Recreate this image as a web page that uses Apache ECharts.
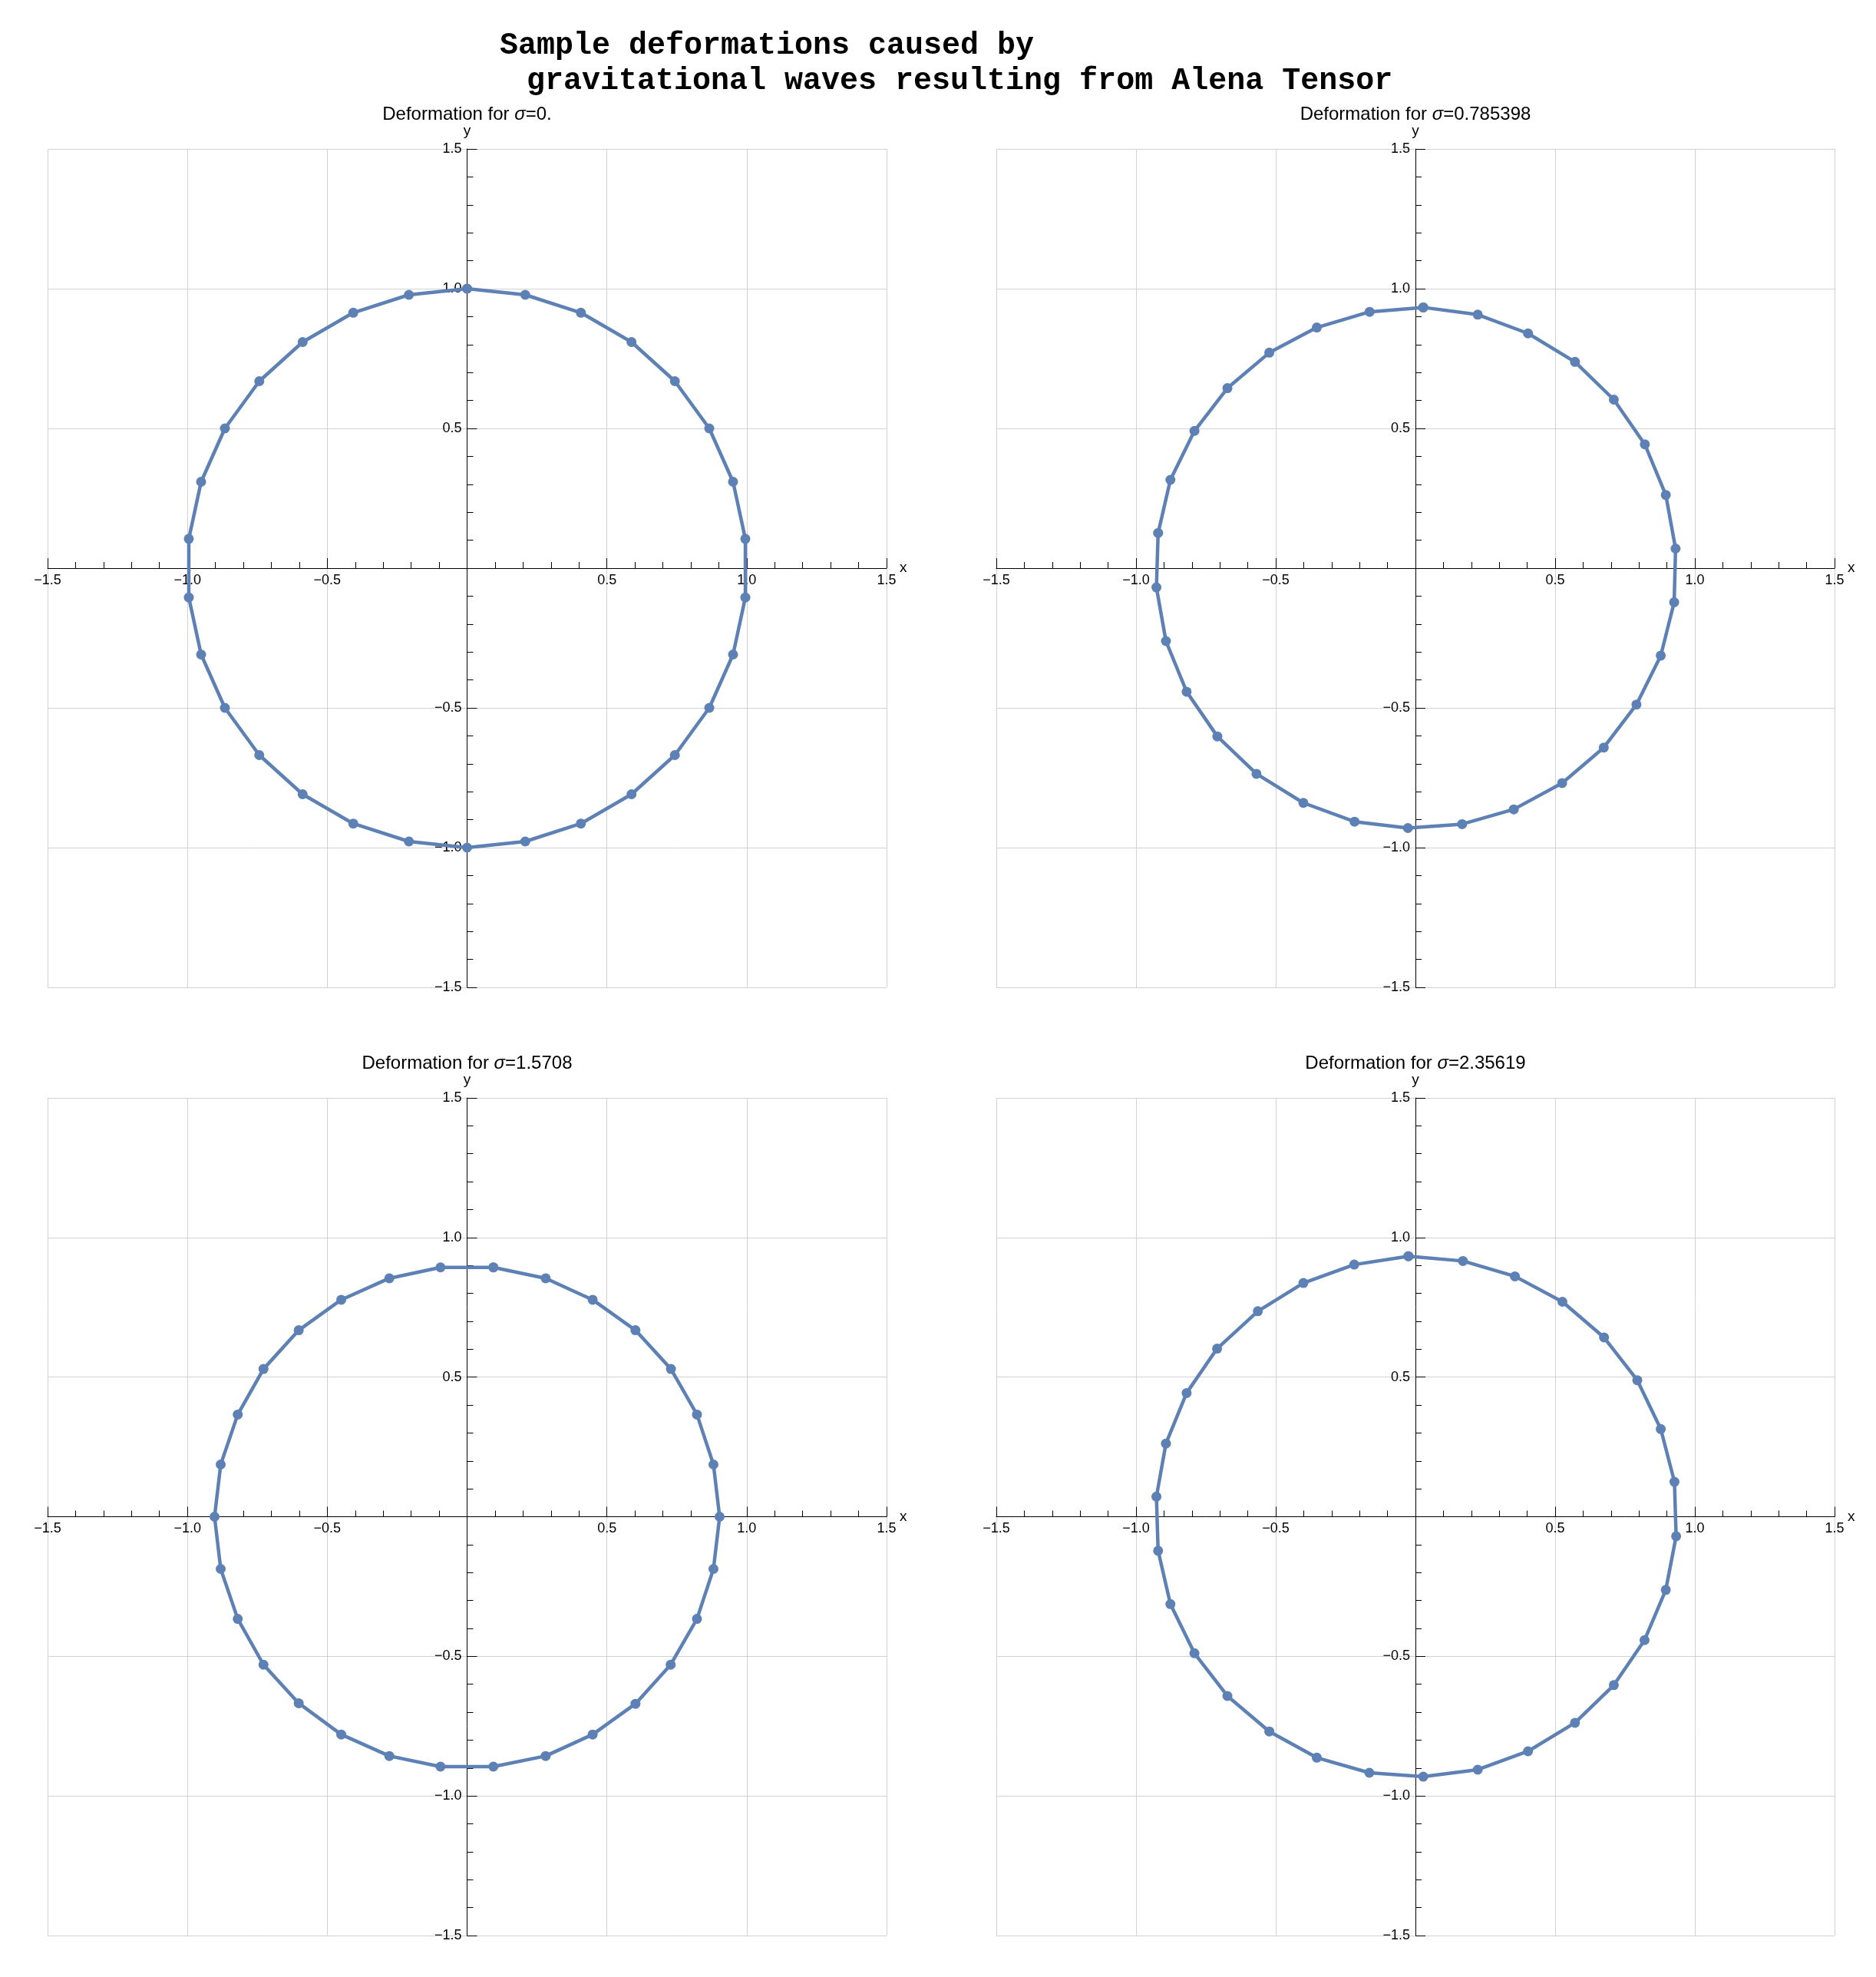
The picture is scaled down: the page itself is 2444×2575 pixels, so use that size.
<!DOCTYPE html>
<html>
<head>
<meta charset="utf-8">
<title>Sample deformations</title>
<script src="https://cdn.jsdelivr.net/npm/echarts@6/dist/echarts.min.js"></script>
<style>
  html, body { margin: 0; padding: 0; background: #fff; }
  #chart { width: 2444px; height: 2575px; }
</style>
</head>
<body>
<div id="chart"></div>
<script>
// sigma values shown in the panel titles
const sigmaLabels = ['0.', '0.785398', '1.5708', '2.35619']

// axis range (both axes)
const axisMin = -1.5
const axisMax = 1.5
const axisStep = 0.5

// points, clockwise from the top
const xSigma0 = [0, 0.208, 0.407, 0.588, 0.743, 0.866, 0.951, 0.995, 0.995, 0.951, 0.866, 0.743, 0.588, 0.407, 0.208,
  0, -0.208, -0.407, -0.588, -0.743, -0.866, -0.951, -0.995, -0.995, -0.951, -0.866, -0.743, -0.588, -0.407, -0.208]
const ySigma0 = [1, 0.978, 0.914, 0.809, 0.669, 0.5, 0.309, 0.105, -0.105, -0.309, -0.5, -0.669, -0.809, -0.914, -0.978,
  -1, -0.978, -0.914, -0.809, -0.669, -0.5, -0.309, -0.105, 0.105, 0.309, 0.5, 0.669, 0.809, 0.914, 0.978]

const xSigma1 = [0.028, 0.223, 0.403, 0.571, 0.710, 0.821, 0.896, 0.931, 0.926, 0.878, 0.791, 0.674, 0.525, 0.352, 0.167,
  -0.027, -0.218, -0.401, -0.569, -0.709, -0.819, -0.893, -0.927, -0.921, -0.877, -0.791, -0.673, -0.523, -0.353, -0.164]
const ySigma1 = [0.933, 0.907, 0.840, 0.738, 0.603, 0.443, 0.262, 0.070, -0.122, -0.313, -0.488, -0.642, -0.769, -0.863, -0.916,
  -0.930, -0.907, -0.840, -0.736, -0.602, -0.442, -0.261, -0.069, 0.126, 0.316, 0.491, 0.644, 0.771, 0.861, 0.917]

const xSigma2 = [0.094, 0.281, 0.449, 0.602, 0.729, 0.822, 0.881, 0.903, 0.881, 0.822, 0.728, 0.602, 0.449, 0.281, 0.094,
  -0.095, -0.278, -0.450, -0.602, -0.728, -0.820, -0.881, -0.903, -0.881, -0.820, -0.728, -0.602, -0.450, -0.278, -0.095]
const ySigma2 = [0.893, 0.854, 0.777, 0.668, 0.529, 0.366, 0.187, 0, -0.187, -0.366, -0.530, -0.670, -0.780, -0.857, -0.895,
  -0.895, -0.857, -0.780, -0.668, -0.530, -0.366, -0.187, 0, 0.187, 0.366, 0.529, 0.668, 0.777, 0.854, 0.893]

const xSigma3 = [-0.025, 0.170, 0.356, 0.526, 0.675, 0.794, 0.878, 0.927, 0.933, 0.896, 0.820, 0.710, 0.571, 0.403, 0.223,
  0.028, -0.165, -0.353, -0.523, -0.673, -0.791, -0.877, -0.921, -0.927, -0.893, -0.819, -0.710, -0.564, -0.401, -0.219]
const ySigma3 = [0.933, 0.916, 0.861, 0.770, 0.642, 0.489, 0.314, 0.125, -0.070, -0.262, -0.442, -0.603, -0.738, -0.840, -0.906,
  -0.931, -0.917, -0.863, -0.769, -0.642, -0.489, -0.313, -0.122, 0.072, 0.262, 0.443, 0.602, 0.736, 0.837, 0.903]

const panelX = [xSigma0, xSigma1, xSigma2, xSigma3]
const panelY = [ySigma0, ySigma1, ySigma2, ySigma3]

// layout
const grids = [
  { left: 62, top: 194, width: 1093, height: 1092 },
  { left: 1298, top: 194, width: 1092, height: 1092 },
  { left: 62, top: 1430, width: 1093, height: 1091 },
  { left: 1298, top: 1430, width: 1092, height: 1091 }
]
const lineColor = '#5e81b5'
const sansFont = '"Liberation Sans", Arial, sans-serif'

function tickLabel (v) {
  if (v === 0) return ''
  return v.toFixed(1).replace('-', '\u2212')
}

// axes cross at the origin: shift them into the middle of the grid
function makeAxis (dim, i) {
  const isX = dim === 'x'
  const g = grids[i]
  return {
    type: 'value',
    gridIndex: i,
    position: isX ? 'bottom' : 'left',
    offset: isX ? -g.height / 2 : -g.width / 2,
    min: axisMin,
    max: axisMax,
    interval: axisStep,
    name: dim,
    nameLocation: 'end',
    nameGap: isX ? 17 : 14,
    nameTextStyle: {
      color: '#000',
      fontSize: 19,
      fontFamily: sansFont,
      verticalAlign: isX ? 'middle' : 'bottom'
    },
    axisLine: { show: true, onZero: false, lineStyle: { color: '#000', width: 1 } },
    axisTick: { show: true, inside: true, length: 13, lineStyle: { color: '#000', width: 1 } },
    minorTick: { show: true, splitNumber: 5, length: 8, lineStyle: { color: '#000', width: 1 } },
    axisLabel: {
      color: '#000',
      fontSize: 18,
      fontFamily: sansFont,
      margin: 7,
      hideOverlap: false,
      formatter: tickLabel
    },
    splitLine: { show: true, lineStyle: { color: '#d2d2d2', width: 1 } },
    minorSplitLine: { show: false }
  }
}

function makeSeries (i) {
  const pts = panelX[i].map((x, k) => [x, panelY[i][k]])
  pts.push(pts[0])
  return {
    type: 'line',
    xAxisIndex: i,
    yAxisIndex: i,
    data: pts,
    symbol: 'circle',
    symbolSize: 13,
    showSymbol: true,
    clip: false,
    lineStyle: { color: lineColor, width: 4.5 },
    itemStyle: { color: lineColor },
    emphasis: { disabled: true },
    z: 5
  }
}

const titleFont = {
  fontFamily: '"Liberation Mono", "Courier New", monospace',
  fontWeight: 'bold',
  fontSize: 40,
  color: '#000'
}

const titles = [
  { text: 'Sample deformations caused by', left: 651, top: 40, padding: 0, textStyle: titleFont },
  { text: 'gravitational waves resulting from Alena Tensor', left: 686, top: 86, padding: 0, textStyle: titleFont }
]
grids.forEach((g, i) => {
  titles.push({
    text: 'Deformation for {s|\u03c3}=' + sigmaLabels[i],
    left: g.left + g.width / 2,
    top: g.top - 57,
    textAlign: 'center',
    padding: 0,
    textStyle: {
      fontFamily: sansFont,
      fontWeight: 'normal',
      fontSize: 24,
      color: '#000',
      rich: {
        s: { fontFamily: sansFont, fontStyle: 'italic', fontSize: 24, color: '#000' }
      }
    }
  })
})

const chartInstance = echarts.init(document.getElementById('chart'), null, { renderer: 'canvas' })
const option = {
  backgroundColor: '#fff',
  animation: false,
  title: titles,
  grid: grids.map(g => Object.assign({ containLabel: false }, g)),
  xAxis: grids.map((g, i) => makeAxis('x', i)),
  yAxis: grids.map((g, i) => makeAxis('y', i)),
  series: grids.map((g, i) => makeSeries(i))
}
chartInstance.setOption(option)
</script>
</body>
</html>
